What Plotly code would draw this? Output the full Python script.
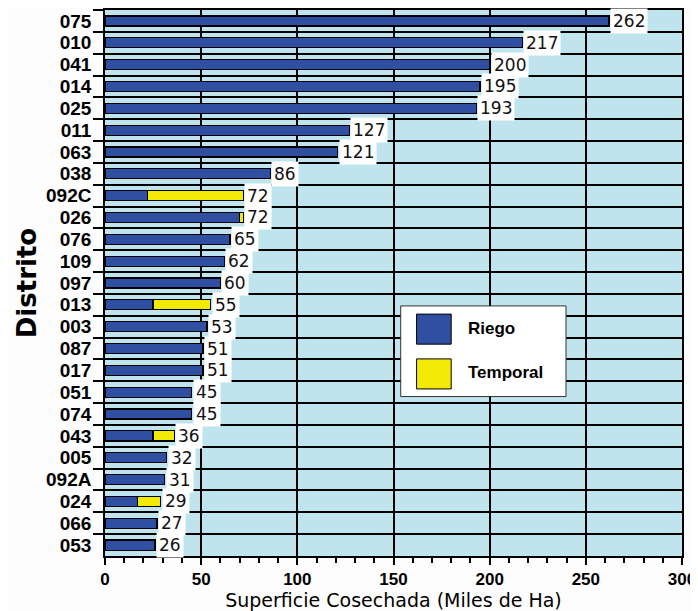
import plotly.graph_objects as go

distritos = ["075", "010", "041", "014", "025", "011", "063", "038", "092C", "026",
             "076", "109", "097", "013", "003", "087", "017", "051", "074", "043",
             "005", "092A", "024", "066", "053"]
riego = [262, 217, 200, 195, 193, 127, 121, 86, 22, 70,
         65, 62, 60, 25, 53, 51, 51, 45, 45, 25,
         32, 31, 17, 27, 26]
temporal = [0, 0, 0, 0, 0, 0, 0, 0, 50, 2,
            0, 0, 0, 30, 0, 0, 0, 0, 0, 11,
            0, 0, 12, 0, 0]
totales = [262, 217, 200, 195, 193, 127, 121, 86, 72, 72,
           65, 62, 60, 55, 53, 51, 51, 45, 45, 36,
           32, 31, 29, 27, 26]
x_ticks = [0, 50, 100, 150, 200, 250, 300]

BLUE = "#2f4fa3"
YELLOW = "#f2ea05"
BG = "#bfe4ed"

fig = go.Figure()
fig.add_trace(go.Bar(y=distritos, x=riego, orientation="h", name="Riego",
                     marker=dict(color=BLUE, line=dict(color="black", width=1.2)),
                     width=0.46, showlegend=False))
fig.add_trace(go.Bar(y=distritos, x=temporal, orientation="h", name="Temporal",
                     marker=dict(color=YELLOW, line=dict(color="black", width=1.2)),
                     width=0.46, showlegend=False))

# value labels (category index used as position on the category axis)
for i, t in enumerate(totales):
    fig.add_annotation(x=t, y=i, text=str(t), showarrow=False, xanchor="left",
                       xshift=1, bgcolor="white", borderpad=2,
                       font=dict(family="DejaVu Sans", size=17, color="#111"))

# custom legend box
fig.add_shape(type="rect", xref="paper", yref="paper", x0=0.5125, x1=0.799, y0=0.292, y1=0.458,
              fillcolor="white", line=dict(color="#333", width=1))
fig.add_shape(type="rect", xref="paper", yref="paper", x0=0.540, x1=0.600, y0=0.388, y1=0.443,
              fillcolor=BLUE, line=dict(color="black", width=1))
fig.add_shape(type="rect", xref="paper", yref="paper", x0=0.540, x1=0.600, y0=0.306, y1=0.361,
              fillcolor=YELLOW, line=dict(color="black", width=1))
fig.add_annotation(xref="paper", yref="paper", x=0.625, y=0.416, text="<b>Riego</b>",
                   showarrow=False, xanchor="left",
                   font=dict(family="Liberation Sans", size=17, color="black"))
fig.add_annotation(xref="paper", yref="paper", x=0.625, y=0.336, text="<b>Temporal</b>",
                   showarrow=False, xanchor="left",
                   font=dict(family="Liberation Sans", size=17, color="black"))

# the page body adds an 8px offset, so the figure is 8px smaller and margins compensate
fig.update_layout(
    barmode="stack",
    width=690, height=603,
    margin=dict(l=97, r=16, t=2, b=55, autoexpand=False),
    paper_bgcolor="#fdfdfd",
    plot_bgcolor=BG,
    xaxis=dict(range=[0, 300], tickvals=x_ticks, showgrid=True, gridcolor="black",
               gridwidth=1.5, zeroline=False, ticks="outside", ticklen=7,
               tickcolor="black", tickwidth=1.5, showline=True, linecolor="black",
               linewidth=1.5, mirror=True, automargin=False,
               minor=dict(dtick=10, ticks="outside", ticklen=5, tickcolor="black",
                          tickwidth=1.5, showgrid=False),
               tickfont=dict(family="Liberation Sans", size=17, color="black", weight="bold"),
               title=dict(text="Superficie Cosechada (Miles de Ha)", standoff=7,
                          font=dict(family="DejaVu Sans", size=19, color="black"))),
    yaxis=dict(type="category", categoryorder="array", categoryarray=distritos,
               range=[len(distritos) - 0.5, -0.5], automargin=False,
               tickmode="linear", tick0=0, dtick=1,
               tickson="boundaries", showgrid=True, gridcolor="black", gridwidth=1.5,
               ticks="outside", ticklen=10, tickcolor="black", tickwidth=1.5,
               ticklabelstandoff=8,
               showline=True, linecolor="black", linewidth=1.5, mirror=True,
               tickfont=dict(family="Liberation Sans", size=19, color="black", weight="bold"),
               title=dict(text="Distrito", standoff=2,
                          font=dict(family="DejaVu Sans", size=26, color="black", weight="bold"))),
    bargap=0.5,
)

fig.write_html("out.html")
